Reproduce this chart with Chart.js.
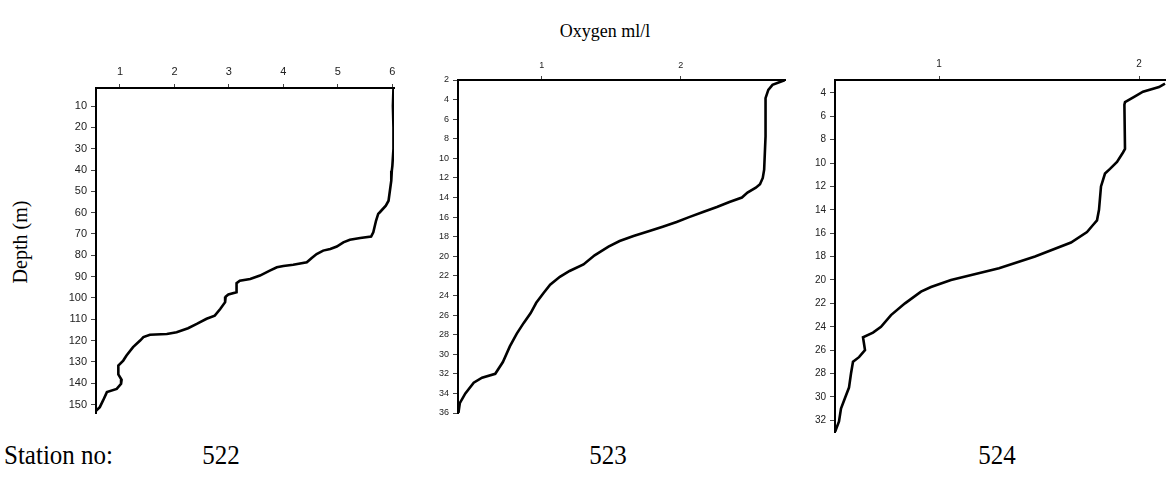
<!DOCTYPE html>
<html>
<head>
<meta charset="utf-8">
<script src="https://cdn.jsdelivr.net/npm/chart.js@4.4.1/dist/chart.umd.min.js"></script>
<style>
  html, body { margin: 0; padding: 0; background: #fff; }
  body { width: 1166px; height: 493px; position: relative; overflow: hidden; }
  .panel { position: absolute; }
  .txt { position: absolute; font-family: "Liberation Serif", "Times New Roman", serif; color: #000; white-space: nowrap; }
  .stn { top: 439px; font-size: 25px; transform-origin: 50% 0; }
</style>
</head>
<body>
<div class="txt" id="xtitle" style="left:605px; top:21px; font-size:18px; transform:translateX(-50%);">Oxygen ml/l</div>
<div class="txt" id="ytitle" style="left:20px; top:242px; font-size:20px; transform:translate(-50%,-50%) rotate(-90deg);">Depth (m)</div>
<div class="txt stn" style="left:4px; transform:scaleY(1.12); transform-origin:0 0;">Station no:</div>
<div class="txt stn" style="left:221px; transform:translateX(-50%) scaleY(1.12);">522</div>
<div class="txt stn" style="left:608px; transform:translateX(-50%) scaleY(1.12);">523</div>
<div class="txt stn" style="left:997px; transform:translateX(-50%) scaleY(1.12);">524</div>

<div class="panel" style="left:0px; top:50px;"><canvas id="c522" width="410" height="380"></canvas></div>
<div class="panel" style="left:410px; top:50px;"><canvas id="c523" width="380" height="380"></canvas></div>
<div class="panel" style="left:790px; top:50px;"><canvas id="c524" width="376" height="392"></canvas></div>

<script>
// ---- Station 522 ----
const depth522 = [1.5, 10, 20, 30, 38, 40.3, 45, 54.4, 56.7, 59.8, 60.6, 63.8, 69.2, 71.25, 71.9, 72.7, 73.9, 75.9, 77.0, 77.8, 79.4, 81.25, 83.3, 84.4, 85.0, 85.6, 87.2, 89.5, 91.1, 91.9, 93.1, 97.3, 98.4, 99.4, 102, 105.2, 108.3, 109.8, 112.2, 114.2, 116.1, 116.9, 117.3, 118.4, 120, 123.1, 127, 129.4, 131.7, 135.9, 138.4, 140.3, 142.7, 144.2, 148.1, 151.25, 153];
const oxy522   = [6.02, 6.01, 6.02, 6.02, 6.00, 5.99, 5.98, 5.93, 5.88, 5.77, 5.74, 5.70, 5.65, 5.61, 5.41, 5.22, 5.10, 4.98, 4.86, 4.73, 4.61, 4.52, 4.43, 4.18, 4.00, 3.88, 3.75, 3.57, 3.39, 3.20, 3.14, 3.14, 2.99, 2.94, 2.93, 2.84, 2.74, 2.59, 2.41, 2.25, 2.04, 1.86, 1.55, 1.43, 1.37, 1.24, 1.12, 1.06, 0.97, 0.97, 1.03, 1.02, 0.94, 0.76, 0.69, 0.63, 0.56];
const xTicks522 = [1, 2, 3, 4, 5, 6];
const yTicks522 = [10, 20, 30, 40, 50, 60, 70, 80, 90, 100, 110, 120, 130, 140, 150];

// ---- Station 523 ----
const depth523 = [2, 2.5, 3, 3.85, 7.76, 11.15, 12, 12.65, 13.0, 13.5, 14.0, 14.45, 14.97, 15.48, 16.0, 16.5, 16.98, 17.4, 17.93, 18.44, 19.02, 19.9, 20.83, 21.5, 22.1, 22.9, 23.8, 24.75, 25.8, 26.8, 27.9, 29.2, 30.8, 32.0, 32.4, 32.9, 34.0, 35.0, 36];
const oxy523   = [2.75, 2.66, 2.63, 2.61, 2.61, 2.60, 2.59, 2.57, 2.54, 2.48, 2.44, 2.35, 2.26, 2.16, 2.06, 1.97, 1.87, 1.78, 1.66, 1.56, 1.48, 1.38, 1.30, 1.20, 1.13, 1.06, 1.01, 0.96, 0.92, 0.87, 0.82, 0.77, 0.72, 0.665, 0.57, 0.51, 0.45, 0.41, 0.40];
const xTicks523 = [1, 2];
const yTicks523 = [2, 4, 6, 8, 10, 12, 14, 16, 18, 20, 22, 24, 26, 28, 30, 32, 34, 36];

// ---- Station 524 ----
const depth524 = [3.2, 3.5, 3.9, 4.3, 4.8, 5.0, 8.8, 9.1, 9.9, 10.5, 10.9, 12, 14, 14.9, 15.3, 15.9, 16.8, 18, 19, 20, 20.6, 21, 22, 23, 24, 24.5, 24.9, 26, 26.6, 27, 28, 29.2, 30.1, 31, 32.1, 33];
const oxy524   = [2.13, 2.10, 2.02, 1.98, 1.93, 1.927, 1.93, 1.92, 1.89, 1.855, 1.83, 1.81, 1.80, 1.79, 1.77, 1.74, 1.66, 1.48, 1.30, 1.06, 0.96, 0.91, 0.83, 0.76, 0.71, 0.67, 0.62, 0.63, 0.60, 0.57, 0.56, 0.55, 0.53, 0.51, 0.50, 0.48];
const xTicks524 = [1, 2];
const yTicks524 = [4, 6, 8, 10, 12, 14, 16, 18, 20, 22, 24, 26, 28, 30, 32];

function makePanel(id, oxy, depth, xTicks, yTicks, cfg) {
  const pts = oxy.map((v, i) => ({ x: v, y: depth[i] }));
  const tickFont = { family: "'Liberation Sans', Arial, sans-serif", size: cfg.fontSize };
  new Chart(document.getElementById(id), {
    type: 'scatter',
    data: { datasets: [{ data: pts, showLine: true, borderColor: '#000', borderWidth: 2.6, pointRadius: 0, tension: 0, fill: false }] },
    options: {
      responsive: false, animation: false, devicePixelRatio: 1,
      layout: { padding: { left: 0, top: 0, right: cfg.padRight, bottom: cfg.padBottom } },
      plugins: { legend: { display: false }, tooltip: { enabled: false } },
      scales: {
        x: {
          type: 'linear', position: 'top', min: cfg.xMin, max: cfg.xMax,
          afterBuildTicks: s => { s.ticks = xTicks.map(v => ({ value: v })); },
          afterFit: s => { s.height = cfg.xAxisH; },
          grid: { drawOnChartArea: false, drawTicks: true, tickLength: 4, color: '#444', lineWidth: 1 },
          border: { display: true, color: '#000', width: 2 },
          ticks: { font: tickFont, color: '#222', padding: cfg.xPad, maxRotation: 0, autoSkip: false }
        },
        y: {
          type: 'linear', position: 'left', reverse: true, min: cfg.yMin, max: cfg.yMax,
          afterBuildTicks: s => { s.ticks = yTicks.map(v => ({ value: v })); },
          afterFit: s => { s.width = cfg.yAxisW; },
          grid: { drawOnChartArea: false, drawTicks: true, tickLength: 5, color: '#444', lineWidth: 1 },
          border: { display: true, color: '#000', width: 2 },
          ticks: { font: tickFont, color: '#222', padding: 4, autoSkip: false }
        }
      }
    }
  });
}

makePanel('c522', oxy522, depth522, xTicks522, yTicks522,
  { xMin: 0.56, xMax: 6.03, yMin: 1.5, yMax: 154, xAxisH: 38, yAxisW: 96, padRight: 16, padBottom: 17, fontSize: 11, xPad: 5 });
makePanel('c523', oxy523, depth523, xTicks523, yTicks523,
  { xMin: 0.397, xMax: 2.75, yMin: 2, yMax: 36, xAxisH: 30, yAxisW: 48, padRight: 5, padBottom: 17, fontSize: 9, xPad: 5 });
makePanel('c524', oxy524, depth524, xTicks524, yTicks524,
  { xMin: 0.48, xMax: 2.135, yMin: 2.9, yMax: 33, xAxisH: 30, yAxisW: 45, padRight: 0, padBottom: 10, fontSize: 10, xPad: 6 });
</script>
</body>
</html>
